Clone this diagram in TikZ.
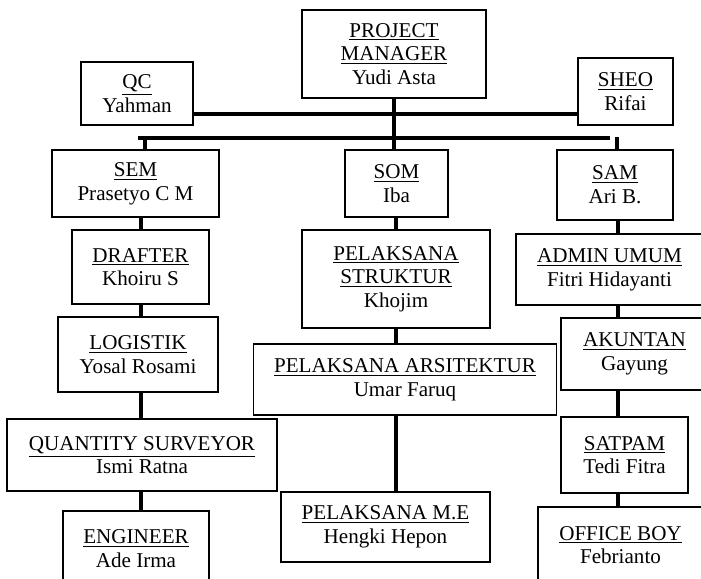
\documentclass[tikz,border=0pt]{standalone}
\usepackage{fontspec}
\setmainfont{Liberation Serif}
\usetikzlibrary{calc}
\tikzset{x=.02cm,y=-.02cm,
  every node/.style={font=\fontsize{12}{13.5}\selectfont},
  unit/.style={draw,line width=.6pt,align=center,inner sep=0pt},
  link/.style={line width=2pt}}
\newcommand{\role}[1]{\underline{#1}}
\begin{document}
\begin{tikzpicture}
\useasboundingbox(0,0)rectangle(701,579);\clip(0,0)rectangle(701,579);
% top level
\node[unit,minimum width=3.68cm,minimum height=1.76cm](pm)at(394,54){\role{PROJECT}\\\role{MANAGER}\\Yudi Asta};
\node[unit,minimum width=2.24cm,minimum height=1.26cm](qc)at(137,93.5){\role{QC}\\Yahman};
\node[unit,minimum width=1.90cm,minimum height=1.34cm](sheo)at(625.5,91.5){\role{SHEO}\\Rifai};
% managers
\node[unit,minimum width=3.34cm,minimum height=1.34cm](sem)at(135.5,183.5){\role{SEM}\\Prasetyo C M};
\node[unit,minimum width=2.06cm,minimum height=1.34cm](som)at(396.5,183.5){\role{SOM}\\Iba};
\node[unit,minimum width=2.32cm,minimum height=1.40cm](sam)at(615,185){\role{SAM}\\Ari B.};
% left column
\node[unit,minimum width=2.74cm,minimum height=1.48cm](drafter)at(140.5,267){\role{DRAFTER}\\Khoiru S};
\node[unit,minimum width=3.20cm,minimum height=1.50cm](logistik)at(138,354.5){\role{LOGISTIK}\\Yosal Rosami};
\node[unit,minimum width=5.40cm,minimum height=1.44cm](qs)at(142,455){\role{QUANTITY SURVEYOR}\\Ismi Ratna};
\node[unit,minimum width=2.92cm,minimum height=1.50cm](engineer)at(136,548.5){\role{ENGINEER}\\Ade Irma};
% middle column
\node[unit,minimum width=3.76cm,minimum height=1.96cm](ps)at(396,279){\role{PELAKSANA}\\\role{STRUKTUR}\\Khojim};
\node[unit,minimum width=6.08cm,minimum height=1.42cm](pa)at(405,379.5){\role{PELAKSANA ARSITEKTUR}\\Umar Faruq};
\node[unit,minimum width=4.18cm,minimum height=1.40cm](pme)at(385.5,527){\role{PELAKSANA M.E}\\Hengki Hepon};
% right column
\node[unit,minimum width=3.74cm,minimum height=1.42cm](admin)at(609.5,269.5){\role{ADMIN UMUM}\\Fitri Hidayanti};
\node[unit,minimum width=2.94cm,minimum height=1.44cm](akuntan)at(634.5,354){\role{AKUNTAN}\\Gayung};
\node[unit,minimum width=2.54cm,minimum height=1.52cm](satpam)at(624.5,455){\role{SATPAM}\\Tedi Fitra};
\node[unit,minimum width=3.30cm,minimum height=1.52cm](ob)at(620.5,545){\role{OFFICE BOY}\\Febrianto};
% lines
\coordinate(bar1)at(392,114);\coordinate(bar2)at(138,138);\coordinate(bar2e)at(610,138);
\coordinate(s1)at(145,138);\coordinate(s2)at(617,137);
\coordinate(colL)at(141,0);\coordinate(colM)at(396,0);\coordinate(colR)at(618,0);
\draw[link](pm.south)--(pm.south|-som.north);
\draw[link](qc.east|-bar1)--(sheo.west|-bar1);
\draw[link](bar2)--(bar2e);
\draw[link](s1)--(s1|-sem.north);\draw[link](s2)--(s2|-sam.north);
\foreach \a/\b in {sem/drafter,drafter/logistik,logistik/qs,qs/engineer}\draw[link](colL|-\a.south)--(colL|-\b.north);
\foreach \a/\b in {som/ps,ps/pa,pa/pme}\draw[link](colM|-\a.south)--(colM|-\b.north);
\foreach \a/\b in {sam/admin,admin/akuntan,akuntan/satpam,satpam/ob}\draw[link](colR|-\a.south)--(colR|-\b.north);
\end{tikzpicture}
\end{document}
